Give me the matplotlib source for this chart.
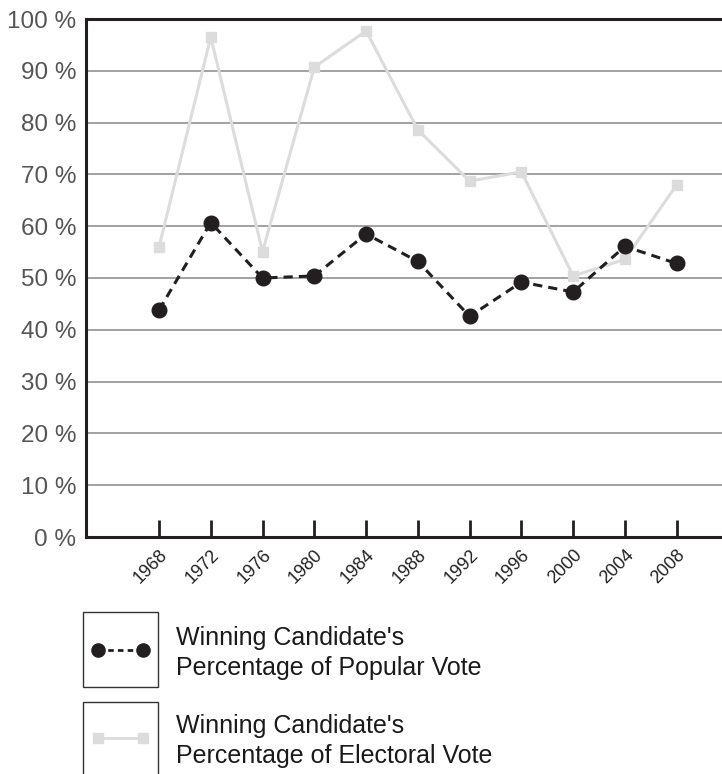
import matplotlib
matplotlib.use("Agg")
import matplotlib.pyplot as plt
from matplotlib.lines import Line2D
from matplotlib.patches import Rectangle

years = [1968, 1972, 1976, 1980, 1984, 1988, 1992, 1996, 2000, 2004, 2008]
popular = [43.8, 60.7, 50.0, 50.4, 58.5, 53.2, 42.6, 49.2, 47.3, 56.1, 52.8]
electoral = [56.0, 96.5, 55.1, 90.7, 97.7, 78.6, 68.7, 70.5, 50.4, 53.6, 68.0]
yticks = [0, 10, 20, 30, 40, 50, 60, 70, 80, 90, 100]
ytick_labels = [f"{v} %" for v in yticks]
legend_labels = ["Winning Candidate's\nPercentage of Popular Vote",
                 "Winning Candidate's\nPercentage of Electoral Vote"]

plt.rcParams['font.family'] = ['Liberation Sans', 'DejaVu Sans']

W, H = 722, 774
fig = plt.figure(figsize=(W / 100, H / 100), dpi=100)
ax = fig.add_axes([86 / W, 1 - 537 / H, 1 - 86 / W, (537 - 19) / H])

dark = '#231f20'
light = '#dcdcdd'

ax.set_xlim(1962.36, 2011.5)
ax.set_ylim(0, 100)
ax.set_yticks(yticks)
ax.set_yticklabels(ytick_labels)
ax.yaxis.grid(True, color='#9a9a9a', linewidth=1.3)
ax.set_axisbelow(True)
ax.tick_params(axis='y', length=0, pad=7, labelsize=17.5, labelcolor='#555555')

ax.set_xticks(years)
ax.set_xticklabels([str(y) for y in years], rotation=45, ha='right', va='top',
                   rotation_mode='anchor')
ax.tick_params(axis='x', direction='in', length=12, width=2, color=dark,
               labelsize=13, labelcolor='#222222', pad=7)

for s in ['top', 'left', 'bottom']:
    ax.spines[s].set_color(dark)
    ax.spines[s].set_linewidth(2.2)
ax.spines['right'].set_visible(False)

ax.plot(years, electoral, color=light, linewidth=2.2, marker='s', markersize=7.5,
        markerfacecolor=light, markeredgecolor=light, zorder=3, clip_on=False)
ax.plot(years, popular, color=dark, linewidth=2.2, linestyle=(0, (3, 2)), marker='o',
        markersize=10.5, markerfacecolor=dark, markeredgecolor=dark, zorder=4,
        clip_on=False)

# Legend boxes
def fx(px):
    return px / W

def fy(py):
    return 1 - py / H

fig.patches.append(Rectangle((fx(83), fy(687)), 75 / W, 75 / H, transform=fig.transFigure,
                             fill=False, edgecolor='#333333', linewidth=1.0))
fig.patches.append(Rectangle((fx(83), fy(776)), 75 / W, 74 / H, transform=fig.transFigure,
                             fill=False, edgecolor='#333333', linewidth=1.0, clip_on=False))

fig.lines.append(Line2D([fx(98), fx(143)], [fy(650), fy(650)], transform=fig.transFigure,
                        color=dark, linewidth=2, linestyle=(0, (2, 1.5)), marker='o',
                        markersize=9.5, markerfacecolor=dark, markeredgecolor=dark))
fig.lines.append(Line2D([fx(98), fx(143)], [fy(738), fy(738)], transform=fig.transFigure,
                        color=light, linewidth=2, marker='s', markersize=7,
                        markerfacecolor=light, markeredgecolor=light))

fig.text(fx(176), fy(653), legend_labels[0], ha='left', va='center', fontsize=18,
         color='#1a1a1a', linespacing=1.28)
fig.text(fx(176), fy(741), legend_labels[1], ha='left', va='center', fontsize=18,
         color='#1a1a1a', linespacing=1.28)

fig.savefig('out.png', dpi=100)
